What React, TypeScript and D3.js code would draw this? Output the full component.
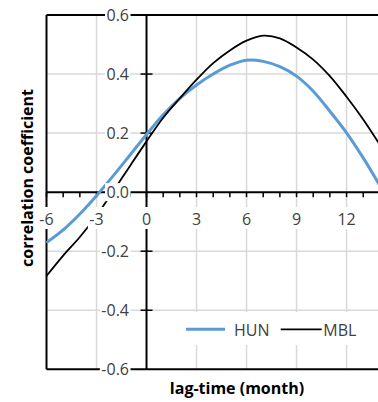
import React, { useEffect, useRef } from "react";
import * as d3 from "d3";

const months = [-6, -5, -4, -3, -2, -1, 0, 1, 2, 3, 4, 5, 6, 7, 8, 9, 10, 11, 12, 13, 14];
const hun = [-0.171, -0.128, -0.074, -0.012, 0.055, 0.125, 0.195, 0.262, 0.318, 0.363, 0.4, 0.43, 0.447, 0.443, 0.425, 0.393, 0.342, 0.274, 0.201, 0.116, 0.022];
const mbl = [-0.284, -0.215, -0.152, -0.08, 0.003, 0.088, 0.172, 0.252, 0.318, 0.381, 0.437, 0.48, 0.513, 0.53, 0.521, 0.49, 0.449, 0.393, 0.323, 0.246, 0.16];
const xTicks = [-6, -3, 0, 3, 6, 9, 12];
const xTickLabels = ["-6", "-3", "0", "3", "6", "9", "12"];
const yTicks = [-0.6, -0.4, -0.2, 0, 0.2, 0.4, 0.6];
const yTickLabels = ["-0.6", "-0.4", "-0.2", "0.0", "0.2", "0.4", "0.6"];
const seriesNames = ["HUN", "MBL"];
const seriesColors = ["#5b9bd5", "#000000"];

const W = 378;
const H = 402;
const FONT = "'Open Sans', sans-serif";

export default function App() {
  const ref = useRef<SVGSVGElement | null>(null);
  useEffect(() => {
    const svg = d3.select(ref.current);
    svg.selectAll("*").remove();
    const left = 46.5, top = 15, bottom = 369.3;
    const x = d3.scaleLinear().domain([-6, 14]).range([left, left + 20 * 16.67]);
    const y = d3.scaleLinear().domain([-0.6, 0.6]).range([bottom, top]);
    const right = x(14);

    svg.append("rect").attr("width", W).attr("height", H).attr("fill", "#fff");

    // gridlines
    const grid = svg.append("g").attr("stroke", "#d9d9d9").attr("stroke-width", 1.5);
    [-3, 3, 6, 9, 12].forEach((v) => {
      grid.append("line").attr("x1", x(v)).attr("x2", x(v)).attr("y1", top).attr("y2", bottom);
    });
    [-0.4, -0.2, 0.2, 0.4].forEach((v) => {
      grid.append("line").attr("x1", left).attr("x2", right).attr("y1", y(v)).attr("y2", y(v));
    });

    // plot border
    const border = svg.append("g").attr("stroke", "#000").attr("stroke-width", 2).attr("fill", "none");
    border.append("line").attr("x1", left).attr("x2", left).attr("y1", top).attr("y2", bottom);
    border.append("line").attr("x1", left).attr("x2", right).attr("y1", top).attr("y2", top).attr("stroke-width", 1.8);
    border.append("line").attr("x1", left).attr("x2", right).attr("y1", bottom).attr("y2", bottom);

    // axes through origin
    const ax = svg.append("g").attr("stroke", "#000").attr("stroke-width", 2);
    ax.append("line").attr("x1", left).attr("x2", right).attr("y1", y(0)).attr("y2", y(0));
    ax.append("line").attr("x1", x(0)).attr("x2", x(0)).attr("y1", top).attr("y2", bottom);
    d3.range(-6, 15).forEach((v) => {
      ax.append("line").attr("x1", x(v)).attr("x2", x(v)).attr("y1", y(0)).attr("y2", y(0) + 5).attr("stroke-width", 1.5);
    });
    [-0.4, -0.2, 0.2, 0.4].forEach((v) => {
      ax.append("line").attr("x1", x(0) - 6).attr("x2", x(0) + 6).attr("y1", y(v)).attr("y2", y(v)).attr("stroke-width", 1.5);
    });

    // series
    const line = d3.line<number>().x((_, i) => x(months[i])).y((d) => y(d)).curve(d3.curveCatmullRom.alpha(0.5));
    [hun, mbl].forEach((s, k) => {
      svg.append("path").attr("d", line(s) as string).attr("fill", "none")
        .attr("stroke", seriesColors[k]).attr("stroke-width", k === 0 ? 3 : 1.8).attr("stroke-linejoin", "round");
    });

    // tick labels with white background
    const labels = svg.append("g").attr("font-family", FONT).attr("font-size", 16).attr("fill", "#404040");
    yTicks.forEach((v, i) => {
      const g = labels.append("g");
      const t = g.append("text").attr("x", x(0) - 17.5).attr("y", y(v)).attr("text-anchor", "end")
        .attr("dominant-baseline", "central").text(yTickLabels[i]);
      const bb = (t.node() as SVGTextElement).getBBox();
      g.insert("rect", "text").attr("x", bb.x - 1.5).attr("y", y(v) - 9).attr("width", bb.width + 3).attr("height", 18).attr("fill", "#fff");
    });
    xTicks.forEach((v, i) => {
      const g = labels.append("g");
      const t = g.append("text").attr("x", x(v)).attr("y", 224.5).attr("text-anchor", "middle").text(xTickLabels[i]);
      const bb = (t.node() as SVGTextElement).getBBox();
      g.insert("rect", "text").attr("x", bb.x - 1.5).attr("y", 207).attr("width", bb.width + 3).attr("height", 22).attr("fill", "#fff");
    });

    // legend
    const lg = svg.append("g").attr("font-family", FONT).attr("font-size", 16).attr("fill", "#404040");
    lg.append("rect").attr("x", 180).attr("y", 312).attr("width", 184).attr("height", 33).attr("fill", "#fff");
    const items = [{ x1: 186, x2: 225, tx: 234 }, { x1: 280.7, x2: 321.7, tx: 323.3 }];
    items.forEach((it, k) => {
      lg.append("line").attr("x1", it.x1).attr("x2", it.x2).attr("y1", 329.3).attr("y2", 329.3)
        .attr("stroke", seriesColors[k]).attr("stroke-width", k === 0 ? 3 : 1.8);
      lg.append("text").attr("x", it.tx).attr("y", 329.5).attr("dominant-baseline", "central").text(seriesNames[k]);
    });

    // axis titles
    const titles = svg.append("g").attr("font-family", FONT).attr("font-weight", "bold").attr("font-size", 16).attr("fill", "#000");
    titles.append("text").attr("x", 237).attr("y", 394).attr("text-anchor", "middle").text("lag-time (month)");
    titles.append("text").attr("transform", "translate(33,178) rotate(-90)").attr("text-anchor", "middle").text("correlation coefficient");
  }, []);
  return <svg ref={ref} width={W} height={H} style={{ position: "absolute", left: 0, top: 0 }} />;
}
